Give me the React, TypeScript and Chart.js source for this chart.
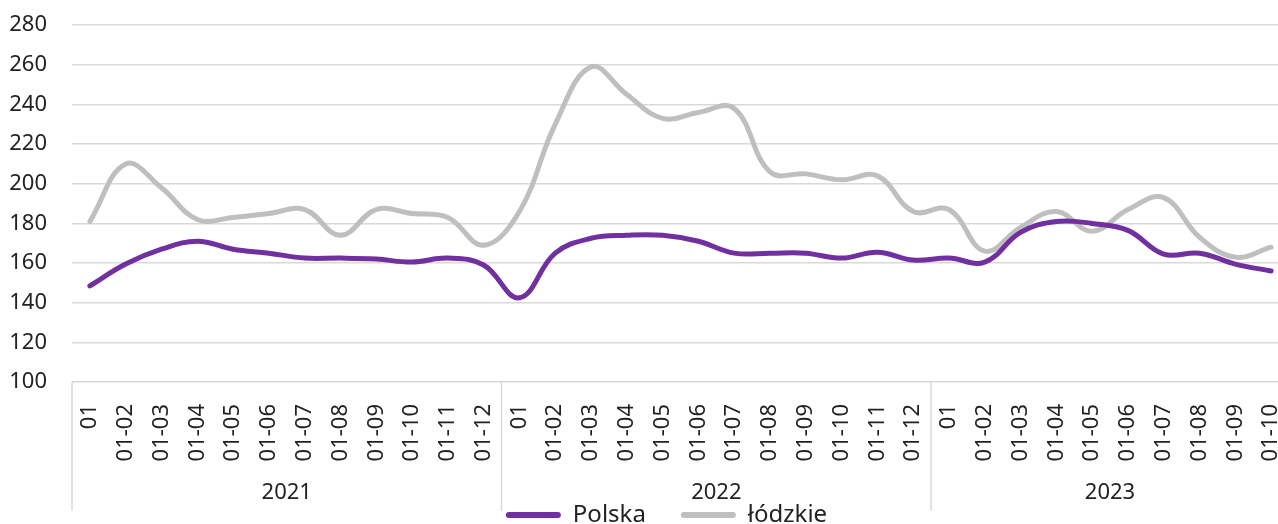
import React, { useEffect, useRef } from 'react';
import { Chart, registerables } from 'chart.js';

Chart.register(...registerables);

const FONT = '"Noto Sans", "DejaVu Sans", sans-serif';
const TEXT_COLOR = '#222222';
const GRID_COLOR = '#d9d9d9';

const monthLabels = ['01', '01-02', '01-03', '01-04', '01-05', '01-06', '01-07', '01-08', '01-09', '01-10', '01-11', '01-12'];
const years = ['2021', '2022', '2023'];
const yearMonthCounts = [12, 12, 10];

const polska = [
  148.5, 159.5, 167, 171, 167, 165, 162.5, 162.5, 162, 160.5, 162.5, 159,
  142.5, 165, 172.5, 174, 174, 171, 165, 165, 165, 162.5, 165.5, 161.5,
  162.5, 160.5, 175.5, 181, 180, 176.5, 164.5, 165, 159.5, 156,
];

const lodzkie = [
  181, 210, 198, 182, 183, 185, 187, 174, 187, 185, 183, 169,
  186, 230, 259, 245, 233, 236, 238, 206, 205, 202, 204, 186,
  187, 166, 178, 186, 176, 187, 193, 173, 163, 168,
];

const yAxisMin = 100;
const yAxisMax = 280;
const yAxisStep = 20;

const categories: string[] = yearMonthCounts.flatMap((n) => monthLabels.slice(0, n));

const yearGroupsPlugin = {
  id: 'yearGroups',
  afterLayout(chart: any) {
    // shift the legend so it is centred where the reference has it
    if (chart.legend) chart.legend.left += 44;
  },
  afterDraw(chart: any) {
    const x = chart.scales.x;
    const ctx = chart.ctx;
    const half = (x.getPixelForValue(1) - x.getPixelForValue(0)) / 2;
    const top = chart.chartArea.bottom;
    const lineBottom = top + 129;
    const textY = top + 111;
    let start = 0;
    ctx.save();
    yearMonthCounts.forEach((n, g) => {
      const left = x.getPixelForValue(start) - half;
      const right = x.getPixelForValue(start + n - 1) + half;
      ctx.strokeStyle = GRID_COLOR;
      ctx.lineWidth = 1.5;
      ctx.beginPath();
      ctx.moveTo(left, top);
      ctx.lineTo(left, lineBottom);
      ctx.stroke();
      ctx.fillStyle = TEXT_COLOR;
      ctx.font = `22px ${FONT}`;
      ctx.textAlign = 'center';
      ctx.textBaseline = 'middle';
      ctx.fillText(years[g], (left + right) / 2, textY);
      start += n;
    });
    ctx.restore();
  },
};

export default function App() {
  const ref = useRef<HTMLCanvasElement>(null);

  useEffect(() => {
    const chart = new Chart(ref.current!, {
      type: 'line',
      data: {
        labels: categories,
        datasets: [
          {
            label: 'Polska',
            data: polska,
            borderColor: '#7030A0',
            backgroundColor: '#7030A0',
            borderWidth: 5,
            pointRadius: 0,
            tension: 0.4,
            borderCapStyle: 'round',
            borderJoinStyle: 'round',
          },
          {
            label: 'łódzkie',
            data: lodzkie,
            borderColor: '#BFBFBF',
            backgroundColor: '#BFBFBF',
            borderWidth: 5,
            pointRadius: 0,
            tension: 0.4,
            borderCapStyle: 'round',
            borderJoinStyle: 'round',
          },
        ],
      },
      plugins: [yearGroupsPlugin],
      options: {
        responsive: false,
        animation: false,
        layout: { padding: { top: 11, right: 45, left: 0, bottom: 0 } },
        scales: {
          x: {
            type: 'category',
            offset: true,
            grid: { display: false },
            border: { display: false },
            ticks: {
              autoSkip: false,
              minRotation: 90,
              maxRotation: 90,
              padding: 14,
              color: TEXT_COLOR,
              font: { family: FONT, size: 22 },
            },
            afterFit: (s: any) => {
              s.height = 86;
            },
          },
          y: {
            min: yAxisMin,
            max: yAxisMax,
            ticks: {
              stepSize: yAxisStep,
              padding: 25,
              color: TEXT_COLOR,
              font: { family: FONT, size: 22 },
            },
            grid: { color: GRID_COLOR, lineWidth: 1.5, drawTicks: false },
            border: { display: false },
            afterFit: (s: any) => {
              s.width = 72;
            },
          },
        },
        plugins: {
          tooltip: { enabled: false },
          legend: {
            position: 'bottom',
            labels: {
              color: TEXT_COLOR,
              font: { family: FONT, size: 24 },
              boxWidth: 55,
              boxHeight: 6,
              padding: 35,
              useBorderRadius: true,
              borderRadius: 3,
              generateLabels: (c: any) =>
                (Chart.defaults.plugins.legend.labels.generateLabels as any)(c).map((l: any) => ({ ...l, lineWidth: 0 })),
            },
          },
        },
      },
    });
    return () => chart.destroy();
  }, []);

  return (
    <div style={{ position: 'fixed', left: 0, top: 0, width: 1278, height: 524, overflow: 'hidden', background: '#fff' }}>
      <canvas
        ref={ref}
        width={1334}
        height={550}
        style={{ display: 'block', width: 1334, height: 550, marginTop: -13 }}
      />
    </div>
  );
}
